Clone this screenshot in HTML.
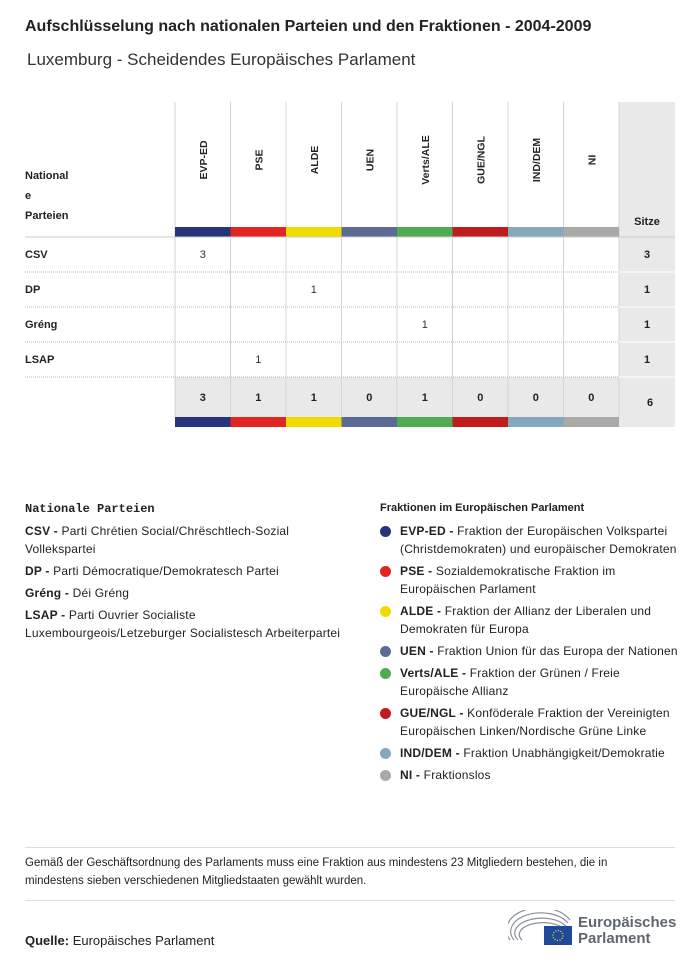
<!DOCTYPE html>
<html><head><meta charset="utf-8">
<style>
body{margin:0;width:700px;height:965px;background:#fff;font-family:"Liberation Sans",sans-serif;color:#222;position:relative;overflow:hidden}
.a{position:absolute}
.b{font-weight:bold}
.leg{font-size:11px;line-height:18px;color:#222}
.lg{font-size:12px;letter-spacing:0.2px;line-height:18px;color:#222}
.dot{position:absolute;width:11px;height:11px;border-radius:50%}
</style></head><body>
<div class="a b" style="left:25px;top:18px;font-size:16px">Aufschlüsselung nach nationalen Parteien und den Fraktionen - 2004-2009</div>
<div class="a" style="left:27px;top:50px;font-size:17px;color:#333">Luxemburg - Scheidendes Europäisches Parlament</div>
<svg class="a" style="left:0;top:0" width="700" height="440" id="tbl"></svg>

<div class="a" style="left:25px;top:502px;width:325px">
<div style="font-family:'Liberation Mono',monospace;font-weight:bold;font-size:12px;margin-bottom:6px">Nationale Parteien</div>
<div class="lg" style="margin-bottom:4px;width:290px"><b>CSV - </b>Parti Chrétien Social/Chrëschtlech-Sozial Vollekspartei</div>
<div class="lg" style="margin-bottom:4px"><b>DP - </b>Parti Démocratique/Demokratesch Partei</div>
<div class="lg" style="margin-bottom:4px"><b>Gréng - </b>Déi Gréng</div>
<div class="lg"><b>LSAP - </b>Parti Ouvrier Socialiste Luxembourgeois/Letzeburger Socialistesch Arbeiterpartei</div>
</div>

<div class="a" style="left:380px;top:502px;width:300px">
<div class="b" style="font-size:11px;margin-bottom:8px">Fraktionen im Europäischen Parlament</div>
<div id="gl"></div>
</div>

<div class="a" style="left:25px;top:847px;width:650px;border-top:1px solid #ddd"></div>
<div class="a leg" style="left:25px;top:854px;width:640px;font-size:11.5px">Gemäß der Geschäftsordnung des Parlaments muss eine Fraktion aus mindestens 23 Mitgliedern bestehen, die in mindestens sieben verschiedenen Mitgliedstaaten gewählt wurden.</div>
<div class="a" style="left:25px;top:900px;width:650px;border-top:1px solid #ddd"></div>
<div class="a" style="left:25px;top:933px;font-size:13px"><b>Quelle:</b> Europäisches Parlament</div>

<div class="a" style="left:508px;top:910px;width:170px;height:40px">
<svg width="66" height="36" style="position:absolute;left:0;top:0">
<g fill="none" stroke="#8a9099" stroke-width="1.2">
<path d="M2 30 A30 20 0 0 1 62 10"/><path d="M6 30 A26 16 0 0 1 60 13"/><path d="M10 30 A22 12 0 0 1 58 16"/><path d="M14 30 A18 9 0 0 1 56 19"/>
</g>
<rect x="36" y="16" width="28" height="19" fill="#1f4a9c"/>
<circle cx="50" cy="25.5" r="5" fill="none" stroke="#f3d200" stroke-width="1.5" stroke-dasharray="1 1.6"/>
</svg>
<div style="position:absolute;left:70px;top:5px;font-size:15px;font-weight:bold;color:#5f6670;line-height:16px">Europäisches<br>Parlament</div>
</div>

<script>
const groups=["EVP-ED","PSE","ALDE","UEN","Verts/ALE","GUE/NGL","IND/DEM","NI"];
const colors=["#27337a","#e32522","#efdb00","#5b6b93","#4fac55","#c01c1e","#84a9bd","#a9a9a9"];
const parties=["CSV","DP","Gréng","LSAP"];
const seats=[[3,0,0,0,0,0,0,0],[0,0,1,0,0,0,0,0],[0,0,0,0,1,0,0,0],[0,1,0,0,0,0,0,0]];
const groupDesc=["Fraktion der Europäischen Volkspartei (Christdemokraten) und europäischer Demokraten","Sozialdemokratische Fraktion im Europäischen Parlament","Fraktion der Allianz der Liberalen und Demokraten für Europa","Fraktion Union für das Europa der Nationen","Fraktion der Grünen / Freie Europäische Allianz","Konföderale Fraktion der Vereinigten Europäischen Linken/Nordische Grüne Linke","Fraktion Unabhängigkeit/Demokratie","Fraktionslos"];

const NS="http://www.w3.org/2000/svg";
const svg=document.getElementById('tbl');
function el(tag,at,txt){const e=document.createElementNS(NS,tag);for(const k in at)e.setAttribute(k,at[k]);if(txt!==undefined)e.textContent=txt;svg.appendChild(e);return e;}
const x0=175,cw=55.5,topY=102,hb=237,rh=35;
const xc=i=>x0+i*cw;
const rowY=j=>hb+j*rh;
const totY=rowY(parties.length), totH=40;
const sitzeX=xc(groups.length);
let r=el('rect',{x:sitzeX,y:topY,width:56,height:totY+totH+10-topY,fill:'#e9e9e9'});


r=el('rect',{x:x0,y:totY,width:sitzeX-x0,height:totH,fill:'#e9e9e9'});


for(let i=0;i<=groups.length;i++){el('line',{x1:xc(i),x2:xc(i),y1:topY,y2:totY+totH,stroke:'#d4d4d4','stroke-width':1});}
let t=el('text',{x:25,y:179,'font-size':11,'font-weight':'bold',fill:'#222'},'National');


el('text',{x:25,y:199,'font-size':11,'font-weight':'bold',fill:'#222'},'e');
el('text',{x:25,y:219,'font-size':11,'font-weight':'bold',fill:'#222'},'Parteien');
t=el('text',{x:sitzeX+28,y:225,'font-size':11,'font-weight':'bold','text-anchor':'middle',fill:'#222'},'Sitze');


groups.forEach((g,i)=>{
 const cx=xc(i)+cw/2;
 const h=el('text',{x:0,y:0,'font-size':10.5,'font-weight':'bold','text-anchor':'middle',fill:'#222',transform:`translate(${cx+4},160) rotate(-90)`},g);
 
 
 const b=el('rect',{x:xc(i),y:227,width:cw,height:10,fill:colors[i]});
 
 
 const b2=el('rect',{x:xc(i),y:totY+totH,width:cw,height:10,fill:colors[i]});
 
 
});
el('line',{x1:25,x2:675,y1:hb,y2:hb,stroke:'#ccc','stroke-width':1});
let grand=0;
parties.forEach((p,j)=>{
 const y=rowY(j);
 const lbl=el('text',{x:25,y:y+21,'font-size':11,'font-weight':'bold',fill:'#222'},p);
 
 
 let sum=0;
 seats[j].forEach((v,i)=>{sum+=v;if(v){const c=el('text',{x:xc(i)+cw/2,y:y+21,'font-size':11,'text-anchor':'middle',fill:'#333'},v);
  
  }});
 grand+=sum;
 const s=el('text',{x:sitzeX+28,y:y+21,'font-size':11,'font-weight':'bold','text-anchor':'middle',fill:'#222'},sum);
 
 
 el('line',{x1:25,x2:sitzeX,y1:y+rh,y2:y+rh,stroke:'#bbb','stroke-width':1,'stroke-dasharray':'1 1'});
 el('line',{x1:sitzeX,x2:675,y1:y+rh,y2:y+rh,stroke:'#fff','stroke-width':1});
});
groups.forEach((g,i)=>{
 let s=0;seats.forEach(row=>s+=row[i]);
 const c=el('text',{x:xc(i)+cw/2,y:totY+24,'font-size':11,'font-weight':'bold','text-anchor':'middle',fill:'#222'},s);
 
 
});
t=el('text',{x:sitzeX+31,y:totY+29,'font-size':11,'font-weight':'bold','text-anchor':'middle',fill:'#222'},grand);



const gl=document.getElementById('gl');
groups.forEach((g,i)=>{
 const d=document.createElement('div');
 
 
 d.style.cssText='position:relative;padding-left:20px;margin-bottom:4px';
 d.className='lg';
 d.innerHTML=`<span class="dot" style="left:0;top:4px;background:${colors[i]}"></span><b>${g} - </b>${groupDesc[i]}`;
 gl.appendChild(d);
});
</script>
</body></html>
